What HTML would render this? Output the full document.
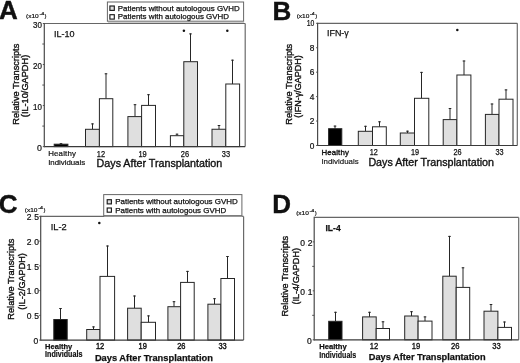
<!DOCTYPE html>
<html><head><meta charset="utf-8"><style>
html,body{margin:0;padding:0;background:#fff;overflow:hidden;}
svg{display:block;will-change:transform;}
text{font-family:"Liberation Sans", sans-serif;fill:#111;stroke:#111;}
</style></head><body>
<svg width="520" height="363" viewBox="0 0 520 363">
<rect width="520" height="363" fill="#fff"/>
<text x="-1.0" y="19.2" font-size="26" font-weight="bold" stroke-width="0.4">A</text>
<text x="26" y="17.5" font-size="5.8" textLength="12.7" lengthAdjust="spacingAndGlyphs" stroke-width="0.2">(x10</text>
<text x="39.4" y="14.7" font-size="4.0" textLength="4.7" lengthAdjust="spacingAndGlyphs" stroke-width="0.2">-4</text>
<text x="44.6" y="17.5" font-size="5.8" stroke-width="0.2">)</text>
<line x1="42.3" y1="126.08333333333333" x2="44.3" y2="126.08333333333333" stroke="#555" stroke-width="1"/>
<line x1="42.3" y1="85.05" x2="44.3" y2="85.05" stroke="#555" stroke-width="1"/>
<line x1="42.3" y1="44.016666666666666" x2="44.3" y2="44.016666666666666" stroke="#555" stroke-width="1"/>
<line x1="42.8" y1="146.6" x2="44.3" y2="146.6" stroke="#555" stroke-width="1"/>
<text x="41.9" y="151.0" font-size="8.8" text-anchor="end" stroke-width="0.22">0</text>
<line x1="42.8" y1="105.56666666666666" x2="44.3" y2="105.56666666666666" stroke="#555" stroke-width="1"/>
<text x="41.9" y="109.96666666666667" font-size="8.8" text-anchor="end" textLength="8.9" lengthAdjust="spacingAndGlyphs" stroke-width="0.22">10</text>
<line x1="42.8" y1="64.53333333333333" x2="44.3" y2="64.53333333333333" stroke="#555" stroke-width="1"/>
<text x="41.9" y="68.93333333333334" font-size="8.8" text-anchor="end" textLength="8.9" lengthAdjust="spacingAndGlyphs" stroke-width="0.22">20</text>
<line x1="42.8" y1="23.5" x2="44.3" y2="23.5" stroke="#555" stroke-width="1"/>
<text x="41.9" y="27.9" font-size="8.8" text-anchor="end" textLength="8.9" lengthAdjust="spacingAndGlyphs" stroke-width="0.22">30</text>
<line x1="61.0" y1="143.2" x2="61.0" y2="144.2" stroke="#262626" stroke-width="1"/>
<line x1="59.7" y1="143.7" x2="62.3" y2="143.7" stroke="#262626" stroke-width="1"/>
<rect x="54.2" y="144.2" width="13.700000000000003" height="2.4000000000000057" fill="#000" stroke="#262626" stroke-width="1"/>
<line x1="92.5" y1="123.4" x2="92.5" y2="129.3" stroke="#262626" stroke-width="1"/>
<line x1="91.2" y1="123.9" x2="93.8" y2="123.9" stroke="#262626" stroke-width="1"/>
<rect x="85.5" y="129.3" width="13.900000000000006" height="17.299999999999983" fill="#dfdfdf" stroke="#262626" stroke-width="1"/>
<line x1="106.0" y1="73.3" x2="106.0" y2="98.7" stroke="#262626" stroke-width="1"/>
<line x1="104.7" y1="73.8" x2="107.3" y2="73.8" stroke="#262626" stroke-width="1"/>
<rect x="99.4" y="98.7" width="13.399999999999991" height="47.89999999999999" fill="#fff" stroke="#262626" stroke-width="1"/>
<line x1="135.0" y1="104.2" x2="135.0" y2="116.6" stroke="#262626" stroke-width="1"/>
<line x1="133.7" y1="104.7" x2="136.3" y2="104.7" stroke="#262626" stroke-width="1"/>
<rect x="127.9" y="116.6" width="13.699999999999989" height="30.0" fill="#dfdfdf" stroke="#262626" stroke-width="1"/>
<line x1="148.5" y1="94.2" x2="148.5" y2="105.4" stroke="#262626" stroke-width="1"/>
<line x1="147.2" y1="94.7" x2="149.8" y2="94.7" stroke="#262626" stroke-width="1"/>
<rect x="141.6" y="105.4" width="13.900000000000006" height="41.19999999999999" fill="#fff" stroke="#262626" stroke-width="1"/>
<line x1="177.0" y1="133.7" x2="177.0" y2="135.7" stroke="#262626" stroke-width="1"/>
<line x1="175.7" y1="134.2" x2="178.3" y2="134.2" stroke="#262626" stroke-width="1"/>
<rect x="170.4" y="135.7" width="13.400000000000006" height="10.900000000000006" fill="#fff" stroke="#262626" stroke-width="1"/>
<line x1="190.5" y1="33.4" x2="190.5" y2="61.7" stroke="#262626" stroke-width="1"/>
<line x1="189.2" y1="33.9" x2="191.8" y2="33.9" stroke="#262626" stroke-width="1"/>
<rect x="183.8" y="61.7" width="13.699999999999989" height="84.89999999999999" fill="#dfdfdf" stroke="#262626" stroke-width="1"/>
<line x1="219.0" y1="125" x2="219.0" y2="129.25" stroke="#262626" stroke-width="1"/>
<line x1="217.7" y1="125.5" x2="220.3" y2="125.5" stroke="#262626" stroke-width="1"/>
<rect x="212" y="129.25" width="13.800000000000011" height="17.349999999999994" fill="#dfdfdf" stroke="#262626" stroke-width="1"/>
<line x1="232.5" y1="59.7" x2="232.5" y2="84" stroke="#262626" stroke-width="1"/>
<line x1="231.2" y1="60.2" x2="233.8" y2="60.2" stroke="#262626" stroke-width="1"/>
<rect x="225.8" y="84" width="13.799999999999983" height="62.599999999999994" fill="#fff" stroke="#262626" stroke-width="1"/>
<line x1="44.3" y1="23.5" x2="245.2" y2="23.5" stroke="#666" stroke-width="1.2"/>
<line x1="245.2" y1="23.5" x2="245.2" y2="146.6" stroke="#6a6a6a" stroke-width="1.2"/>
<line x1="44.3" y1="146.6" x2="245.2" y2="146.6" stroke="#3a3a3a" stroke-width="1.2"/>
<line x1="44.3" y1="22.9" x2="44.3" y2="147.2" stroke="#4a4a4a" stroke-width="1.2"/>
<text x="54" y="37" font-size="9.6" textLength="20.6" lengthAdjust="spacingAndGlyphs" stroke-width="0.25">IL-10</text>
<text transform="translate(18.7,84.2) rotate(-90)" font-size="9.2" text-anchor="middle" stroke-width="0.36" textLength="81" lengthAdjust="spacingAndGlyphs">Relative Transcripts</text>
<text transform="translate(28.4,86.0) rotate(-90)" font-size="9.2" text-anchor="middle" stroke-width="0.36" textLength="62.4" lengthAdjust="spacingAndGlyphs">(IL-10/GAPDH)</text>
<text x="48.2" y="156.3" font-size="7.9" textLength="27.7" lengthAdjust="spacing" stroke-width="0.2">Healthy</text>
<text x="48.2" y="164.8" font-size="7.9" textLength="36.9" lengthAdjust="spacing" stroke-width="0.2">Individuals</text>
<text x="101" y="156.5" font-size="8.5" text-anchor="middle" textLength="8.3" lengthAdjust="spacingAndGlyphs" stroke-width="0.25">12</text>
<text x="142.6" y="156.5" font-size="8.5" text-anchor="middle" textLength="8.3" lengthAdjust="spacingAndGlyphs" stroke-width="0.25">19</text>
<text x="185" y="156.5" font-size="8.5" text-anchor="middle" textLength="8.3" lengthAdjust="spacingAndGlyphs" stroke-width="0.25">26</text>
<text x="226" y="156.5" font-size="8.5" text-anchor="middle" textLength="8.3" lengthAdjust="spacingAndGlyphs" stroke-width="0.25">33</text>
<text x="96.6" y="166.9" font-size="10.7" textLength="125.6" lengthAdjust="spacingAndGlyphs" stroke-width="0.35">Days After Transplantation</text>
<circle cx="183.9" cy="30.8" r="1.25" fill="#111"/>
<circle cx="227.3" cy="30.8" r="1.25" fill="#111"/>
<rect x="107.4" y="2" width="136.2" height="19.2" fill="#fff" stroke="#666" stroke-width="1"/>
<line x1="107.9" y1="22.0" x2="244.1" y2="22.0" stroke="#999" stroke-width="1.2"/>
<rect x="109.9" y="6.0" width="4.4" height="4.4" fill="#dfdfdf" stroke="#1a1a1a" stroke-width="1.15"/>
<text x="117.8" y="10.7" font-size="7.7" textLength="122" lengthAdjust="spacingAndGlyphs" stroke-width="0.25">Patients without autologous GVHD</text>
<rect x="109.9" y="14.7" width="4.4" height="4.4" fill="#fff" stroke="#1a1a1a" stroke-width="1.15"/>
<text x="117.8" y="19.4" font-size="7.7" textLength="111.2" lengthAdjust="spacingAndGlyphs" stroke-width="0.25">Patients with autologous GVHD</text>
<text x="272.4" y="19.6" font-size="26" font-weight="bold" stroke-width="0.4">B</text>
<text x="296.7" y="17.8" font-size="5.8" textLength="12.7" lengthAdjust="spacingAndGlyphs" stroke-width="0.2">(x10</text>
<text x="310.09999999999997" y="15.0" font-size="4.0" textLength="4.7" lengthAdjust="spacingAndGlyphs" stroke-width="0.2">-4</text>
<text x="315.3" y="17.8" font-size="5.8" stroke-width="0.2">)</text>
<line x1="316.1" y1="145.5" x2="317.6" y2="145.5" stroke="#555" stroke-width="1"/>
<text x="314.3" y="148.5" font-size="8.3" text-anchor="end" stroke-width="0.22">0</text>
<line x1="316.1" y1="121.06" x2="317.6" y2="121.06" stroke="#555" stroke-width="1"/>
<text x="314.3" y="124.06" font-size="8.3" text-anchor="end" stroke-width="0.22">2</text>
<line x1="316.1" y1="96.62" x2="317.6" y2="96.62" stroke="#555" stroke-width="1"/>
<text x="314.3" y="99.62" font-size="8.3" text-anchor="end" stroke-width="0.22">4</text>
<line x1="316.1" y1="72.17999999999999" x2="317.6" y2="72.17999999999999" stroke="#555" stroke-width="1"/>
<text x="314.3" y="75.17999999999999" font-size="8.3" text-anchor="end" stroke-width="0.22">6</text>
<line x1="316.1" y1="47.739999999999995" x2="317.6" y2="47.739999999999995" stroke="#555" stroke-width="1"/>
<text x="314.3" y="50.739999999999995" font-size="8.3" text-anchor="end" stroke-width="0.22">8</text>
<line x1="316.1" y1="23.299999999999997" x2="317.6" y2="23.299999999999997" stroke="#555" stroke-width="1"/>
<text x="314.3" y="26.299999999999997" font-size="8.3" text-anchor="end" textLength="7.6" lengthAdjust="spacingAndGlyphs" stroke-width="0.22">10</text>
<line x1="335.0" y1="125.6" x2="335.0" y2="128.7" stroke="#262626" stroke-width="1"/>
<line x1="333.7" y1="126.1" x2="336.3" y2="126.1" stroke="#262626" stroke-width="1"/>
<rect x="328.6" y="128.7" width="13.199999999999989" height="16.80000000000001" fill="#000" stroke="#262626" stroke-width="1"/>
<line x1="365.5" y1="125.8" x2="365.5" y2="131.3" stroke="#262626" stroke-width="1"/>
<line x1="364.2" y1="126.3" x2="366.8" y2="126.3" stroke="#262626" stroke-width="1"/>
<rect x="358.3" y="131.3" width="14.199999999999989" height="14.199999999999989" fill="#dfdfdf" stroke="#262626" stroke-width="1"/>
<line x1="379.5" y1="121.3" x2="379.5" y2="126.8" stroke="#262626" stroke-width="1"/>
<line x1="378.2" y1="121.8" x2="380.8" y2="121.8" stroke="#262626" stroke-width="1"/>
<rect x="372.5" y="126.8" width="13.800000000000011" height="18.700000000000003" fill="#fff" stroke="#262626" stroke-width="1"/>
<line x1="407.5" y1="130.7" x2="407.5" y2="133" stroke="#262626" stroke-width="1"/>
<line x1="406.2" y1="131.2" x2="408.8" y2="131.2" stroke="#262626" stroke-width="1"/>
<rect x="400.3" y="133" width="14.199999999999989" height="12.5" fill="#dfdfdf" stroke="#262626" stroke-width="1"/>
<line x1="421.5" y1="71.9" x2="421.5" y2="98.3" stroke="#262626" stroke-width="1"/>
<line x1="420.2" y1="72.4" x2="422.8" y2="72.4" stroke="#262626" stroke-width="1"/>
<rect x="414.5" y="98.3" width="14.300000000000011" height="47.2" fill="#fff" stroke="#262626" stroke-width="1"/>
<line x1="450.0" y1="108" x2="450.0" y2="119.6" stroke="#262626" stroke-width="1"/>
<line x1="448.7" y1="108.5" x2="451.3" y2="108.5" stroke="#262626" stroke-width="1"/>
<rect x="443.2" y="119.6" width="13.699999999999989" height="25.900000000000006" fill="#dfdfdf" stroke="#262626" stroke-width="1"/>
<line x1="464.0" y1="60.5" x2="464.0" y2="75" stroke="#262626" stroke-width="1"/>
<line x1="462.7" y1="61.0" x2="465.3" y2="61.0" stroke="#262626" stroke-width="1"/>
<rect x="456.9" y="75" width="14.0" height="70.5" fill="#fff" stroke="#262626" stroke-width="1"/>
<line x1="492.0" y1="103.5" x2="492.0" y2="114.4" stroke="#262626" stroke-width="1"/>
<line x1="490.7" y1="104.0" x2="493.3" y2="104.0" stroke="#262626" stroke-width="1"/>
<rect x="485.4" y="114.4" width="13.600000000000023" height="31.099999999999994" fill="#dfdfdf" stroke="#262626" stroke-width="1"/>
<line x1="506.0" y1="89.4" x2="506.0" y2="99.2" stroke="#262626" stroke-width="1"/>
<line x1="504.7" y1="89.9" x2="507.3" y2="89.9" stroke="#262626" stroke-width="1"/>
<rect x="499" y="99.2" width="14" height="46.3" fill="#fff" stroke="#262626" stroke-width="1"/>
<line x1="317.6" y1="23.3" x2="517.3" y2="23.3" stroke="#666" stroke-width="1.2"/>
<line x1="517.3" y1="23.3" x2="517.3" y2="145.5" stroke="#6a6a6a" stroke-width="1.2"/>
<line x1="317.6" y1="145.5" x2="517.3" y2="145.5" stroke="#3a3a3a" stroke-width="1.2"/>
<line x1="317.6" y1="22.7" x2="317.6" y2="146.1" stroke="#4a4a4a" stroke-width="1.2"/>
<text x="327" y="36.2" font-size="9.2" textLength="21.8" lengthAdjust="spacingAndGlyphs" stroke-width="0.25">IFN-γ</text>
<text transform="translate(291.6,84.25) rotate(-90)" font-size="9.2" text-anchor="middle" stroke-width="0.36" textLength="81" lengthAdjust="spacingAndGlyphs">Relative Transcripts</text>
<text transform="translate(301.2,86.5) rotate(-90)" font-size="9.2" text-anchor="middle" stroke-width="0.36" textLength="62.4" lengthAdjust="spacingAndGlyphs">(IFN-γ/GAPDH)</text>
<text x="321.4" y="155" font-size="7.9" textLength="27.5" lengthAdjust="spacing" stroke-width="0.35">Healthy</text>
<text x="321.4" y="163.5" font-size="7.9" textLength="37.2" lengthAdjust="spacing" stroke-width="0.15">Individuals</text>
<text x="373.7" y="155" font-size="8.5" text-anchor="middle" textLength="8.1" lengthAdjust="spacingAndGlyphs" stroke-width="0.25">12</text>
<text x="415" y="155" font-size="8.5" text-anchor="middle" textLength="8.1" lengthAdjust="spacingAndGlyphs" stroke-width="0.25">19</text>
<text x="457.5" y="155" font-size="8.5" text-anchor="middle" textLength="8.1" lengthAdjust="spacingAndGlyphs" stroke-width="0.25">26</text>
<text x="499.5" y="155" font-size="8.5" text-anchor="middle" textLength="8.1" lengthAdjust="spacingAndGlyphs" stroke-width="0.25">33</text>
<text x="368.4" y="165.6" font-size="10.7" textLength="125.6" lengthAdjust="spacingAndGlyphs" stroke-width="0.35">Days After Transplantation</text>
<circle cx="457.3" cy="30" r="1.25" fill="#111"/>
<text x="-1.2" y="213.2" font-size="26" font-weight="bold" stroke-width="0.4">C</text>
<text x="24.8" y="211.6" font-size="5.8" textLength="12.7" lengthAdjust="spacingAndGlyphs" stroke-width="0.2">(x10</text>
<text x="38.2" y="208.79999999999998" font-size="4.0" textLength="4.7" lengthAdjust="spacingAndGlyphs" stroke-width="0.2">-4</text>
<text x="43.400000000000006" y="211.6" font-size="5.8" stroke-width="0.2">)</text>
<line x1="39.2" y1="340.1" x2="40.7" y2="340.1" stroke="#555" stroke-width="1"/>
<text x="38.2" y="343.90000000000003" font-size="8.5" text-anchor="end" stroke-width="0.22">0</text>
<line x1="39.2" y1="315.36" x2="40.7" y2="315.36" stroke="#555" stroke-width="1"/>
<text x="34.174" y="319.16" font-size="8.5" stroke-width="0.22">5</text>
<text x="26.748" y="319.16" font-size="8.5" stroke-width="0.22">0</text>
<circle cx="32.77" cy="318.56" r="0.45" fill="#888"/>
<line x1="39.2" y1="290.62" x2="40.7" y2="290.62" stroke="#555" stroke-width="1"/>
<text x="34.174" y="294.42" font-size="8.5" stroke-width="0.22">0</text>
<text x="26.748" y="294.42" font-size="8.5" stroke-width="0.22">1</text>
<circle cx="32.77" cy="293.82" r="0.45" fill="#888"/>
<line x1="39.2" y1="265.88" x2="40.7" y2="265.88" stroke="#555" stroke-width="1"/>
<text x="34.174" y="269.68" font-size="8.5" stroke-width="0.22">5</text>
<text x="26.748" y="269.68" font-size="8.5" stroke-width="0.22">1</text>
<circle cx="32.77" cy="269.08" r="0.45" fill="#888"/>
<line x1="39.2" y1="241.14000000000001" x2="40.7" y2="241.14000000000001" stroke="#555" stroke-width="1"/>
<text x="34.174" y="244.94000000000003" font-size="8.5" stroke-width="0.22">0</text>
<text x="26.748" y="244.94000000000003" font-size="8.5" stroke-width="0.22">2</text>
<circle cx="32.77" cy="244.34" r="0.45" fill="#888"/>
<line x1="39.2" y1="216.4" x2="40.7" y2="216.4" stroke="#555" stroke-width="1"/>
<text x="34.174" y="220.20000000000002" font-size="8.5" stroke-width="0.22">5</text>
<text x="26.748" y="220.20000000000002" font-size="8.5" stroke-width="0.22">2</text>
<circle cx="32.77" cy="219.60" r="0.45" fill="#888"/>
<line x1="60.5" y1="308" x2="60.5" y2="319.5" stroke="#262626" stroke-width="1"/>
<line x1="59.2" y1="308.5" x2="61.8" y2="308.5" stroke="#262626" stroke-width="1"/>
<rect x="53.8" y="319.5" width="13.400000000000006" height="20.600000000000023" fill="#000" stroke="#262626" stroke-width="1"/>
<line x1="93.5" y1="326.4" x2="93.5" y2="329.5" stroke="#262626" stroke-width="1"/>
<line x1="92.2" y1="326.9" x2="94.8" y2="326.9" stroke="#262626" stroke-width="1"/>
<rect x="86.7" y="329.5" width="13.299999999999997" height="10.600000000000023" fill="#dfdfdf" stroke="#262626" stroke-width="1"/>
<line x1="107.5" y1="245.5" x2="107.5" y2="276.4" stroke="#262626" stroke-width="1"/>
<line x1="106.2" y1="246.0" x2="108.8" y2="246.0" stroke="#262626" stroke-width="1"/>
<rect x="100" y="276.4" width="14.599999999999994" height="63.700000000000045" fill="#fff" stroke="#262626" stroke-width="1"/>
<line x1="134.5" y1="295.5" x2="134.5" y2="308.2" stroke="#262626" stroke-width="1"/>
<line x1="133.2" y1="296.0" x2="135.8" y2="296.0" stroke="#262626" stroke-width="1"/>
<rect x="127.6" y="308.2" width="13.599999999999994" height="31.900000000000034" fill="#dfdfdf" stroke="#262626" stroke-width="1"/>
<line x1="148.5" y1="315.4" x2="148.5" y2="322.3" stroke="#262626" stroke-width="1"/>
<line x1="147.2" y1="315.9" x2="149.8" y2="315.9" stroke="#262626" stroke-width="1"/>
<rect x="141.2" y="322.3" width="14.300000000000011" height="17.80000000000001" fill="#fff" stroke="#262626" stroke-width="1"/>
<line x1="174.0" y1="301.2" x2="174.0" y2="306.7" stroke="#262626" stroke-width="1"/>
<line x1="172.7" y1="301.7" x2="175.3" y2="301.7" stroke="#262626" stroke-width="1"/>
<rect x="167.9" y="306.7" width="12.699999999999989" height="33.400000000000034" fill="#dfdfdf" stroke="#262626" stroke-width="1"/>
<line x1="187.5" y1="270.9" x2="187.5" y2="282.4" stroke="#262626" stroke-width="1"/>
<line x1="186.2" y1="271.4" x2="188.8" y2="271.4" stroke="#262626" stroke-width="1"/>
<rect x="180.6" y="282.4" width="13.599999999999994" height="57.700000000000045" fill="#fff" stroke="#262626" stroke-width="1"/>
<line x1="214.5" y1="298.2" x2="214.5" y2="304.2" stroke="#262626" stroke-width="1"/>
<line x1="213.2" y1="298.7" x2="215.8" y2="298.7" stroke="#262626" stroke-width="1"/>
<rect x="207.9" y="304.2" width="13.0" height="35.900000000000034" fill="#dfdfdf" stroke="#262626" stroke-width="1"/>
<line x1="227.5" y1="256" x2="227.5" y2="278.5" stroke="#262626" stroke-width="1"/>
<line x1="226.2" y1="256.5" x2="228.8" y2="256.5" stroke="#262626" stroke-width="1"/>
<rect x="220.9" y="278.5" width="13.599999999999994" height="61.60000000000002" fill="#fff" stroke="#262626" stroke-width="1"/>
<line x1="40.7" y1="216.4" x2="243.6" y2="216.4" stroke="#666" stroke-width="1.2"/>
<line x1="243.6" y1="216.4" x2="243.6" y2="340.1" stroke="#6a6a6a" stroke-width="1.2"/>
<line x1="40.7" y1="340.1" x2="243.6" y2="340.1" stroke="#3a3a3a" stroke-width="1.2"/>
<line x1="40.7" y1="215.8" x2="40.7" y2="340.70000000000005" stroke="#4a4a4a" stroke-width="1.2"/>
<text x="50.8" y="229.7" font-size="9.6" textLength="16" lengthAdjust="spacingAndGlyphs" stroke-width="0.25">IL-2</text>
<text transform="translate(14.2,279.2) rotate(-90)" font-size="9.2" text-anchor="middle" stroke-width="0.36" textLength="81" lengthAdjust="spacingAndGlyphs">Relative Transcripts</text>
<text transform="translate(24.6,281.5) rotate(-90)" font-size="9.2" text-anchor="middle" stroke-width="0.36" textLength="56.7" lengthAdjust="spacingAndGlyphs">(IL-2/GAPDH)</text>
<text x="45.1" y="349.1" font-size="8" font-weight="bold" textLength="27.2" lengthAdjust="spacingAndGlyphs" stroke-width="0.25">Healthy</text>
<text x="45.1" y="357.2" font-size="8.2" font-weight="bold" textLength="37.3" lengthAdjust="spacingAndGlyphs" stroke-width="0.2">Individuals</text>
<text x="100.1" y="349.2" font-size="8.5" text-anchor="middle" textLength="8.3" lengthAdjust="spacingAndGlyphs" stroke-width="0.4">12</text>
<text x="142.7" y="349.2" font-size="8.5" text-anchor="middle" textLength="8.3" lengthAdjust="spacingAndGlyphs" stroke-width="0.4">19</text>
<text x="181.3" y="349.2" font-size="8.5" text-anchor="middle" textLength="8.3" lengthAdjust="spacingAndGlyphs" stroke-width="0.4">26</text>
<text x="222.6" y="349.2" font-size="8.5" text-anchor="middle" textLength="8.3" lengthAdjust="spacingAndGlyphs" stroke-width="0.4">33</text>
<text x="94.9" y="360.6" font-size="9.3" font-weight="bold" textLength="118" lengthAdjust="spacingAndGlyphs" stroke-width="0.25">Days After Transplantation</text>
<circle cx="99.3" cy="222.9" r="1.25" fill="#111"/>
<rect x="103.7" y="194.6" width="138.2" height="21.0" fill="#fff" stroke="#666" stroke-width="1"/>
<line x1="104.2" y1="216.4" x2="242.4" y2="216.4" stroke="#999" stroke-width="1.2"/>
<rect x="107.2" y="199.7" width="4.2" height="4.2" fill="#dfdfdf" stroke="#1a1a1a" stroke-width="1.15"/>
<text x="115.2" y="204.3" font-size="7.7" textLength="122.6" lengthAdjust="spacingAndGlyphs" stroke-width="0.25">Patients without autologous GVHD</text>
<rect x="107.2" y="208" width="4.2" height="4.2" fill="#fff" stroke="#1a1a1a" stroke-width="1.15"/>
<text x="115.2" y="212.9" font-size="7.7" textLength="111" lengthAdjust="spacingAndGlyphs" stroke-width="0.25">Patients with autologous GVHD</text>
<text x="272.2" y="212.8" font-size="26" font-weight="bold" stroke-width="0.4">D</text>
<text x="296.2" y="215.2" font-size="5.8" textLength="12.7" lengthAdjust="spacingAndGlyphs" stroke-width="0.2">(x10</text>
<text x="309.59999999999997" y="212.39999999999998" font-size="4.0" textLength="4.7" lengthAdjust="spacingAndGlyphs" stroke-width="0.2">-4</text>
<text x="314.8" y="215.2" font-size="5.8" stroke-width="0.2">)</text>
<line x1="312.2" y1="315.32" x2="314.2" y2="315.32" stroke="#555" stroke-width="1"/>
<line x1="312.2" y1="266.36" x2="314.2" y2="266.36" stroke="#555" stroke-width="1"/>
<line x1="312.7" y1="339.8" x2="314.2" y2="339.8" stroke="#555" stroke-width="1"/>
<text x="311.8" y="343.6" font-size="8.5" text-anchor="end" stroke-width="0.22">0</text>
<line x1="312.7" y1="290.84000000000003" x2="314.2" y2="290.84000000000003" stroke="#555" stroke-width="1"/>
<text x="307.774" y="294.64000000000004" font-size="8.5" stroke-width="0.22">1</text>
<text x="300.348" y="294.64000000000004" font-size="8.5" stroke-width="0.22">0</text>
<circle cx="306.37" cy="294.04" r="0.45" fill="#888"/>
<line x1="312.7" y1="241.88" x2="314.2" y2="241.88" stroke="#555" stroke-width="1"/>
<text x="307.774" y="245.68" font-size="8.5" stroke-width="0.22">2</text>
<text x="300.348" y="245.68" font-size="8.5" stroke-width="0.22">0</text>
<circle cx="306.37" cy="245.08" r="0.45" fill="#888"/>
<line x1="335.5" y1="311.8" x2="335.5" y2="321.3" stroke="#262626" stroke-width="1"/>
<line x1="334.2" y1="312.3" x2="336.8" y2="312.3" stroke="#262626" stroke-width="1"/>
<rect x="328.7" y="321.3" width="13.300000000000011" height="18.5" fill="#000" stroke="#262626" stroke-width="1"/>
<line x1="369.5" y1="311.8" x2="369.5" y2="316.9" stroke="#262626" stroke-width="1"/>
<line x1="368.2" y1="312.3" x2="370.8" y2="312.3" stroke="#262626" stroke-width="1"/>
<rect x="362.6" y="316.9" width="13.599999999999966" height="22.900000000000034" fill="#dfdfdf" stroke="#262626" stroke-width="1"/>
<line x1="383.0" y1="321.3" x2="383.0" y2="328.5" stroke="#262626" stroke-width="1"/>
<line x1="381.7" y1="321.8" x2="384.3" y2="321.8" stroke="#262626" stroke-width="1"/>
<rect x="376.2" y="328.5" width="13.300000000000011" height="11.300000000000011" fill="#fff" stroke="#262626" stroke-width="1"/>
<line x1="411.5" y1="311.2" x2="411.5" y2="316" stroke="#262626" stroke-width="1"/>
<line x1="410.2" y1="311.7" x2="412.8" y2="311.7" stroke="#262626" stroke-width="1"/>
<rect x="404.7" y="316" width="13.400000000000034" height="23.80000000000001" fill="#dfdfdf" stroke="#262626" stroke-width="1"/>
<line x1="425.0" y1="316.4" x2="425.0" y2="321.1" stroke="#262626" stroke-width="1"/>
<line x1="423.7" y1="316.9" x2="426.3" y2="316.9" stroke="#262626" stroke-width="1"/>
<rect x="418.1" y="321.1" width="13.899999999999977" height="18.69999999999999" fill="#fff" stroke="#262626" stroke-width="1"/>
<line x1="449.5" y1="235.9" x2="449.5" y2="276.2" stroke="#262626" stroke-width="1"/>
<line x1="448.2" y1="236.4" x2="450.8" y2="236.4" stroke="#262626" stroke-width="1"/>
<rect x="442.8" y="276.2" width="13.399999999999977" height="63.60000000000002" fill="#dfdfdf" stroke="#262626" stroke-width="1"/>
<line x1="463.0" y1="267.3" x2="463.0" y2="287.4" stroke="#262626" stroke-width="1"/>
<line x1="461.7" y1="267.8" x2="464.3" y2="267.8" stroke="#262626" stroke-width="1"/>
<rect x="456.2" y="287.4" width="13.5" height="52.400000000000034" fill="#fff" stroke="#262626" stroke-width="1"/>
<line x1="491.0" y1="304" x2="491.0" y2="311.2" stroke="#262626" stroke-width="1"/>
<line x1="489.7" y1="304.5" x2="492.3" y2="304.5" stroke="#262626" stroke-width="1"/>
<rect x="484" y="311.2" width="13.899999999999977" height="28.600000000000023" fill="#dfdfdf" stroke="#262626" stroke-width="1"/>
<line x1="504.5" y1="321.5" x2="504.5" y2="327.4" stroke="#262626" stroke-width="1"/>
<line x1="503.2" y1="322.0" x2="505.8" y2="322.0" stroke="#262626" stroke-width="1"/>
<rect x="497.9" y="327.4" width="13.600000000000023" height="12.400000000000034" fill="#fff" stroke="#262626" stroke-width="1"/>
<line x1="314.2" y1="217.4" x2="518.7" y2="217.4" stroke="#666" stroke-width="1.2"/>
<line x1="518.7" y1="217.4" x2="518.7" y2="339.8" stroke="#6a6a6a" stroke-width="1.2"/>
<line x1="314.2" y1="339.8" x2="518.7" y2="339.8" stroke="#3a3a3a" stroke-width="1.2"/>
<line x1="314.2" y1="216.8" x2="314.2" y2="340.40000000000003" stroke="#4a4a4a" stroke-width="1.2"/>
<text x="325.5" y="231.3" font-size="9.2" font-weight="bold" textLength="15.2" lengthAdjust="spacingAndGlyphs" stroke-width="0.25">IL-4</text>
<text transform="translate(288.2,276.25) rotate(-90)" font-size="9.2" text-anchor="middle" stroke-width="0.36" textLength="80.5" lengthAdjust="spacingAndGlyphs">Relative Transcripts</text>
<text transform="translate(298.8,276.3) rotate(-90)" font-size="9.2" text-anchor="middle" stroke-width="0.36" textLength="56.6" lengthAdjust="spacingAndGlyphs">(IL-4/GAPDH)</text>
<text x="319.2" y="349" font-size="8" font-weight="bold" textLength="27.5" lengthAdjust="spacingAndGlyphs" stroke-width="0.25">Healthy</text>
<text x="319.2" y="357.8" font-size="8.2" font-weight="bold" textLength="37.1" lengthAdjust="spacingAndGlyphs" stroke-width="0.15">Individuals</text>
<text x="374" y="349" font-size="8.4" text-anchor="middle" textLength="8.5" lengthAdjust="spacingAndGlyphs" stroke-width="0.35">12</text>
<text x="416" y="349" font-size="8.4" text-anchor="middle" textLength="8.5" lengthAdjust="spacingAndGlyphs" stroke-width="0.35">19</text>
<text x="455.3" y="349" font-size="8.4" text-anchor="middle" textLength="8.5" lengthAdjust="spacingAndGlyphs" stroke-width="0.35">26</text>
<text x="496.4" y="349" font-size="8.4" text-anchor="middle" textLength="8.5" lengthAdjust="spacingAndGlyphs" stroke-width="0.35">33</text>
<text x="368.8" y="359.7" font-size="9.3" font-weight="bold" textLength="116.8" lengthAdjust="spacingAndGlyphs" stroke-width="0.25">Days After Transplantation</text>
</svg></body></html>
